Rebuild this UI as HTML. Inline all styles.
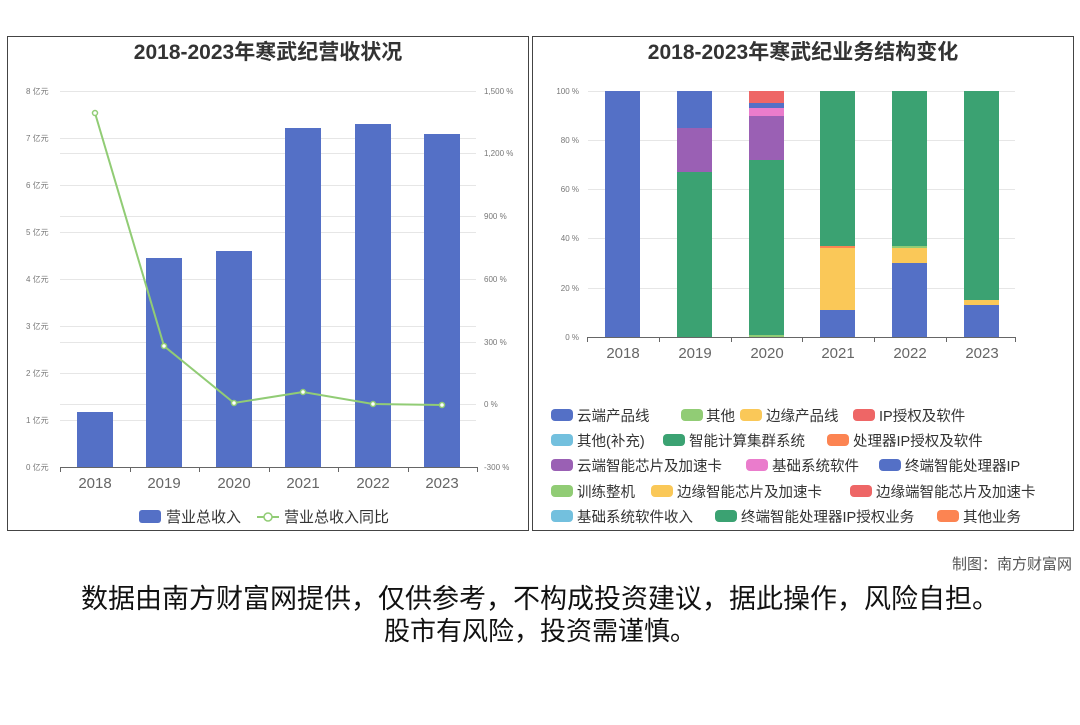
<!DOCTYPE html>
<html><head><meta charset="utf-8"><style>
body{margin:0;background:#fff;}
svg text{font-family:"Liberation Sans","Noto Sans CJK SC",sans-serif;}
</style></head><body>
<svg width="1080" height="720" xmlns="http://www.w3.org/2000/svg">
<rect width="1080" height="720" fill="#fff"/>
<rect x="7.5" y="36.5" width="521" height="494" fill="none" stroke="#444" stroke-width="1"/>
<rect x="532.5" y="36.5" width="541" height="494" fill="none" stroke="#444" stroke-width="1"/>
<!-- LEFT -->
<text x="268" y="59" font-size="21" font-weight="bold" fill="#333" text-anchor="middle">2018-2023年寒武纪营收状况</text>
<g stroke="#e6e6e6" stroke-width="1">
<line x1="60" x2="476" y1="91.5" y2="91.5"/><line x1="60" x2="476" y1="138.5" y2="138.5"/>
<line x1="60" x2="476" y1="185.5" y2="185.5"/><line x1="60" x2="476" y1="232.5" y2="232.5"/>
<line x1="60" x2="476" y1="279.5" y2="279.5"/><line x1="60" x2="476" y1="326.5" y2="326.5"/>
<line x1="60" x2="476" y1="373.5" y2="373.5"/><line x1="60" x2="476" y1="420.5" y2="420.5"/>
<line x1="60" x2="476" y1="153.5" y2="153.5"/><line x1="60" x2="476" y1="216.5" y2="216.5"/>
<line x1="60" x2="476" y1="342.5" y2="342.5"/><line x1="60" x2="476" y1="404.5" y2="404.5"/>
</g>
<g font-size="8" fill="#777">
<text x="26" y="94">8 亿元</text><text x="26" y="141">7 亿元</text><text x="26" y="188">6 亿元</text>
<text x="26" y="235">5 亿元</text><text x="26" y="282">4 亿元</text><text x="26" y="329">3 亿元</text>
<text x="26" y="376">2 亿元</text><text x="26" y="423">1 亿元</text><text x="26" y="470">0 亿元</text>
<text x="484" y="94">1,500 %</text><text x="484" y="156">1,200 %</text><text x="484" y="219">900 %</text>
<text x="484" y="282">600 %</text><text x="484" y="345">300 %</text><text x="484" y="407">0 %</text>
<text x="484" y="470">-300 %</text>
</g>
<g fill="#5470c6">
<rect x="77" y="412" width="36" height="55"/>
<rect x="146" y="258" width="36" height="209"/>
<rect x="216" y="251" width="36" height="216"/>
<rect x="285" y="128" width="36" height="339"/>
<rect x="355" y="124" width="36" height="343"/>
<rect x="424" y="134" width="36" height="333"/>
</g>
<line x1="60" x2="477" y1="467.5" y2="467.5" stroke="#666"/>
<g stroke="#666"><line x1="60.5" x2="60.5" y1="467" y2="472"/><line x1="130.5" x2="130.5" y1="467" y2="472"/><line x1="199.5" x2="199.5" y1="467" y2="472"/><line x1="269.5" x2="269.5" y1="467" y2="472"/><line x1="338.5" x2="338.5" y1="467" y2="472"/><line x1="408.5" x2="408.5" y1="467" y2="472"/><line x1="477.5" x2="477.5" y1="467" y2="472"/></g>
<polyline points="95,113 164,346 234,403 303,392 373,404 442,405" fill="none" stroke="#91cc75" stroke-width="2"/>
<g fill="#fff" stroke="#91cc75" stroke-width="1.5">
<circle cx="95" cy="113" r="2.5"/><circle cx="164" cy="346" r="2.5"/><circle cx="234" cy="403" r="2.5"/><circle cx="303" cy="392" r="2.5"/><circle cx="373" cy="404" r="2.5"/><circle cx="442" cy="405" r="2.5"/>
</g>
<g font-size="15" fill="#666" text-anchor="middle">
<text x="95" y="488">2018</text><text x="164" y="488">2019</text><text x="234" y="488">2020</text><text x="303" y="488">2021</text><text x="373" y="488">2022</text><text x="442" y="488">2023</text>
</g>
<rect x="139" y="510" width="22" height="13" rx="3" fill="#5470c6"/>
<text x="166" y="522" font-size="15" fill="#333">营业总收入</text>
<line x1="257" x2="279" y1="517" y2="517" stroke="#91cc75" stroke-width="2"/>
<circle cx="268" cy="517" r="4" fill="#fff" stroke="#91cc75" stroke-width="1.5"/>
<text x="284" y="522" font-size="15" fill="#333">营业总收入同比</text>
<!-- RIGHT -->
<text x="803" y="59" font-size="21" font-weight="bold" fill="#333" text-anchor="middle">2018-2023年寒武纪业务结构变化</text>
<g stroke="#e6e6e6"><line x1="588" x2="1015" y1="91.5" y2="91.5"/><line x1="588" x2="1015" y1="140.5" y2="140.5"/><line x1="588" x2="1015" y1="189.5" y2="189.5"/><line x1="588" x2="1015" y1="238.5" y2="238.5"/><line x1="588" x2="1015" y1="288.5" y2="288.5"/></g>
<g font-size="8" fill="#777" text-anchor="end">
<text x="579" y="94">100 %</text><text x="579" y="143">80 %</text><text x="579" y="192">60 %</text><text x="579" y="241">40 %</text><text x="579" y="291">20 %</text><text x="579" y="340">0 %</text>
</g>
<rect x="605" y="91" width="35" height="246" fill="#5470c6"/>
<rect x="677" y="172" width="35" height="165" fill="#3ba272"/>
<rect x="677" y="128" width="35" height="44" fill="#9a60b4"/>
<rect x="677" y="91" width="35" height="37" fill="#5470c6"/>
<rect x="749" y="160" width="35" height="177" fill="#3ba272"/>
<rect x="749" y="335" width="35" height="2" fill="#91cc75"/>
<rect x="749" y="116" width="35" height="44" fill="#9a60b4"/>
<rect x="749" y="108" width="35" height="8" fill="#ea7ccc"/>
<rect x="749" y="103" width="35" height="5" fill="#5470c6"/>
<rect x="749" y="91" width="35" height="12" fill="#ee6666"/>
<rect x="820" y="310" width="35" height="27" fill="#5470c6"/>
<rect x="820" y="248" width="35" height="62" fill="#fac858"/>
<rect x="820" y="246" width="35" height="2" fill="#fc8452"/>
<rect x="820" y="91" width="35" height="155" fill="#3ba272"/>
<rect x="892" y="263" width="35" height="74" fill="#5470c6"/>
<rect x="892" y="248" width="35" height="15" fill="#fac858"/>
<rect x="892" y="246" width="35" height="2" fill="#91cc75"/>
<rect x="892" y="91" width="35" height="155" fill="#3ba272"/>
<rect x="964" y="305" width="35" height="32" fill="#5470c6"/>
<rect x="964" y="300" width="35" height="5" fill="#fac858"/>
<rect x="964" y="91" width="35" height="209" fill="#3ba272"/>
<line x1="587" x2="1016" y1="337.5" y2="337.5" stroke="#666"/>
<g stroke="#666"><line x1="587.5" x2="587.5" y1="337" y2="342"/><line x1="659.5" x2="659.5" y1="337" y2="342"/><line x1="731.5" x2="731.5" y1="337" y2="342"/><line x1="802.5" x2="802.5" y1="337" y2="342"/><line x1="874.5" x2="874.5" y1="337" y2="342"/><line x1="946.5" x2="946.5" y1="337" y2="342"/><line x1="1015.5" x2="1015.5" y1="337" y2="342"/></g>
<g font-size="15" fill="#666" text-anchor="middle">
<text x="623" y="358">2018</text><text x="695" y="358">2019</text><text x="767" y="358">2020</text><text x="838" y="358">2021</text><text x="910" y="358">2022</text><text x="982" y="358">2023</text>
</g>
<g font-size="14.5" fill="#333">
<rect x="551" y="409" width="22" height="12" rx="4" fill="#5470c6"/><text x="577" y="421">云端产品线</text>
<rect x="681" y="409" width="22" height="12" rx="4" fill="#91cc75"/><text x="706" y="421">其他</text>
<rect x="740" y="409" width="22" height="12" rx="4" fill="#fac858"/><text x="766" y="421">边缘产品线</text>
<rect x="853" y="409" width="22" height="12" rx="4" fill="#ee6666"/><text x="879" y="421">IP授权及软件</text>

<rect x="551" y="434" width="22" height="12" rx="4" fill="#73c0de"/><text x="577" y="446">其他(补充)</text>
<rect x="663" y="434" width="22" height="12" rx="4" fill="#3ba272"/><text x="689" y="446">智能计算集群系统</text>
<rect x="827" y="434" width="22" height="12" rx="4" fill="#fc8452"/><text x="853" y="446">处理器IP授权及软件</text>

<rect x="551" y="459" width="22" height="12" rx="4" fill="#9a60b4"/><text x="577" y="471">云端智能芯片及加速卡</text>
<rect x="746" y="459" width="22" height="12" rx="4" fill="#ea7ccc"/><text x="772" y="471">基础系统软件</text>
<rect x="879" y="459" width="22" height="12" rx="4" fill="#5470c6"/><text x="905" y="471">终端智能处理器IP</text>

<rect x="551" y="485" width="22" height="12" rx="4" fill="#91cc75"/><text x="577" y="497">训练整机</text>
<rect x="651" y="485" width="22" height="12" rx="4" fill="#fac858"/><text x="677" y="497">边缘智能芯片及加速卡</text>
<rect x="850" y="485" width="22" height="12" rx="4" fill="#ee6666"/><text x="876" y="497">边缘端智能芯片及加速卡</text>

<rect x="551" y="510" width="22" height="12" rx="4" fill="#73c0de"/><text x="577" y="522">基础系统软件收入</text>
<rect x="715" y="510" width="22" height="12" rx="4" fill="#3ba272"/><text x="741" y="522">终端智能处理器IP授权业务</text>
<rect x="937" y="510" width="22" height="12" rx="4" fill="#fc8452"/><text x="963" y="522">其他业务</text>
</g>
<text x="1072" y="569" font-size="15" fill="#555" text-anchor="end">制图：南方财富网</text>
<text x="540" y="608" font-size="27" fill="#111" text-anchor="middle">数据由南方财富网提供，仅供参考，不构成投资建议，据此操作，风险自担。</text>
<text x="540" y="640" font-size="26" fill="#111" text-anchor="middle">股市有风险，投资需谨慎。</text>
</svg>
</body></html>
